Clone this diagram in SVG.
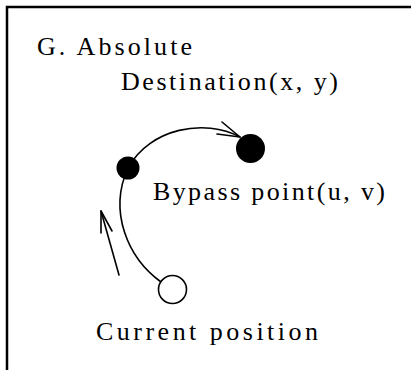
<svg xmlns="http://www.w3.org/2000/svg" width="411" height="370" viewBox="0 0 411 370">
<style>
.t{font-family:"Liberation Serif","DejaVu Serif",serif;font-size:26px;fill:#000}
.ln{fill:none;stroke:#000;stroke-width:1.6;stroke-linecap:round;stroke-linejoin:round}
.fr{fill:none;stroke:#000;stroke-width:2.5}
</style>
<rect width="411" height="370" fill="#fff"/>
<path class="fr" d="M7,370 V7 H411"/>
<g id="connectors">
<path class="ln" d="M161,282 C128,258 108,212 128,168 C150,128 205,118 240,137"/>
<polyline class="ln" points="222,122 240,137 217,134"/>
<line class="ln" x1="119" y1="275" x2="101" y2="211"/>
<polyline class="ln" points="101,233 101,211 112,231"/>
</g>
<g id="current"><circle cx="172.5" cy="289.5" r="14" fill="#fff" stroke="#000" stroke-width="1.6"/><text class="t" x="96" y="340" textLength="222" lengthAdjust="spacing">Current position</text></g>
<g id="bypass"><circle cx="128" cy="168" r="11.5" fill="#000"/><text class="t" x="153" y="200" textLength="232" lengthAdjust="spacing">Bypass point(u, v)</text></g>
<g id="destination"><circle cx="250.5" cy="148.5" r="14.5" fill="#000"/><text class="t" x="121" y="90" textLength="217" lengthAdjust="spacing">Destination(x, y)</text></g>
<g id="title"><text class="t" x="37" y="55" textLength="155" lengthAdjust="spacing">G. Absolute</text></g>
</svg>
